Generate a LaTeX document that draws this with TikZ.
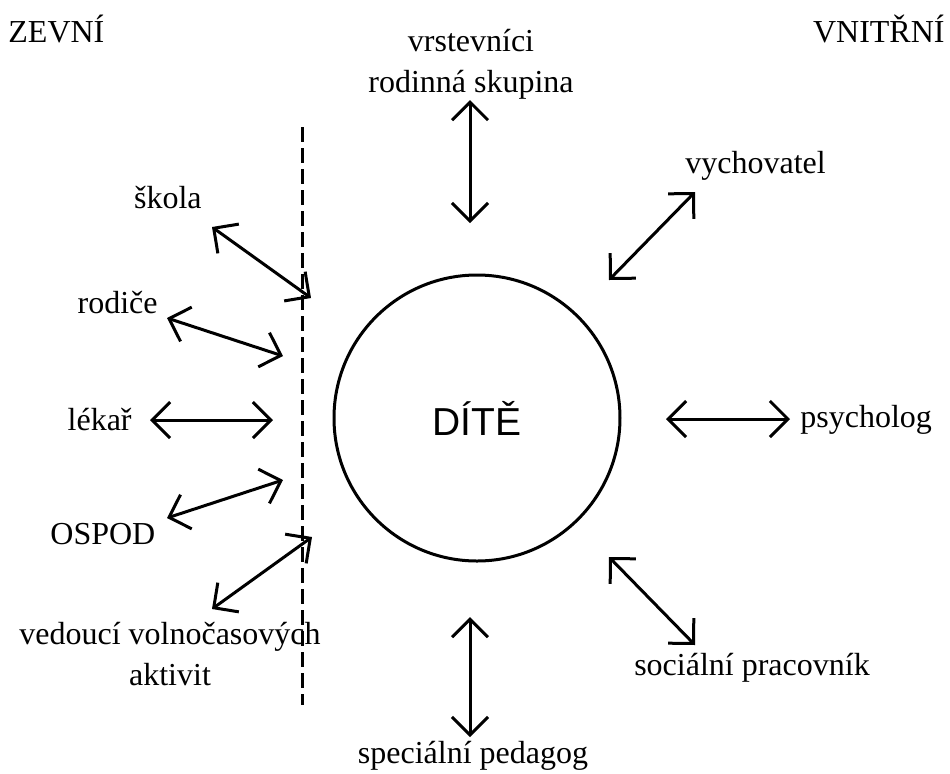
\documentclass[tikz,border=0pt]{standalone}
\usepackage{fontspec}
\setmainfont{Liberation Serif}
\newfontfamily\arialfont{Liberation Sans}
\usepackage{tikz}
\usetikzlibrary{arrows.meta}

\begin{document}
\begin{tikzpicture}[x=0.5pt,y=-0.5pt]
	\tikzstyle{every node}+=[inner sep=0pt,font=\fontsize{16}{20.5}\selectfont]
	\tikzstyle{link}=[line width=1.5pt,{Straight Barb[length=9pt,width=18pt]}-{Straight Barb[length=9pt,width=18pt]}]
	\useasboundingbox (0,0) rectangle (950,773);
	\node [anchor=base west] (zevni) at (8,42) {ZEVNÍ};
	\node [anchor=base east] (vnitrni) at (945,42) {VNITŘNÍ};
	\node [draw,circle,line width=1.5pt,minimum size=143pt,font=\arialfont\fontsize{19.5}{22}\selectfont] (dite) at (477,418) {DÍTĚ};
	\draw [line width=1.5pt,dash pattern=on 7.5pt off 3pt] (302,127) coordinate (hraniceA) -- (302,705) coordinate (hraniceB);
	\node [anchor=base,align=center] (vrstevnici) at (471,92) {vrstevníci\\rodinná skupina};
	\coordinate (vrstA) at (470,100);
	\coordinate (vrstB) at (470,223);
	\draw [link] (vrstA) -- (vrstB);
	\node [anchor=base west] (vychovatel) at (685,173) {vychovatel};
	\coordinate (vychA) at (695,192);
	\coordinate (vychB) at (609,280);
	\draw [link] (vychA) -- (vychB);
	\node [anchor=base west] (psycholog) at (800,427) {psycholog};
	\coordinate (psychA) at (666,419);
	\coordinate (psychB) at (790,419);
	\draw [link] (psychA) -- (psychB);
	\node [anchor=base] (socialni) at (752,675) {sociální pracovník};
	\coordinate (socA) at (609,557);
	\coordinate (socB) at (695,645);
	\draw [link] (socA) -- (socB);
	\node [anchor=base] (specialni) at (473,763) {speciální pedagog};
	\coordinate (specA) at (470,617);
	\coordinate (specB) at (470,737);
	\draw [link] (specA) -- (specB);
	\node [anchor=base east] (skola) at (202,208) {škola};
	\coordinate (skolaA) at (212,227);
	\coordinate (skolaB) at (311,298);
	\draw [link] (skolaA) -- (skolaB);
	\node [anchor=base east] (rodice) at (158,313) {rodiče};
	\coordinate (rodA) at (167,318);
	\coordinate (rodB) at (283,356);
	\draw [link] (rodA) -- (rodB);
	\node [anchor=base east] (lekar) at (132,430) {lékař};
	\coordinate (lekA) at (150,420);
	\coordinate (lekB) at (273,420);
	\draw [link] (lekA) -- (lekB);
	\node [anchor=base west] (ospod) at (50,544) {OSPOD};
	\coordinate (ospA) at (167,518);
	\coordinate (ospB) at (283,480);
	\draw [link] (ospA) -- (ospB);
	\node [anchor=base,align=center] (vedouci) at (170,685) {vedoucí volnočasových\\aktivit};
	\coordinate (vedA) at (212,609);
	\coordinate (vedB) at (312,537);
	\draw [link] (vedA) -- (vedB);
\end{tikzpicture}
\end{document}
